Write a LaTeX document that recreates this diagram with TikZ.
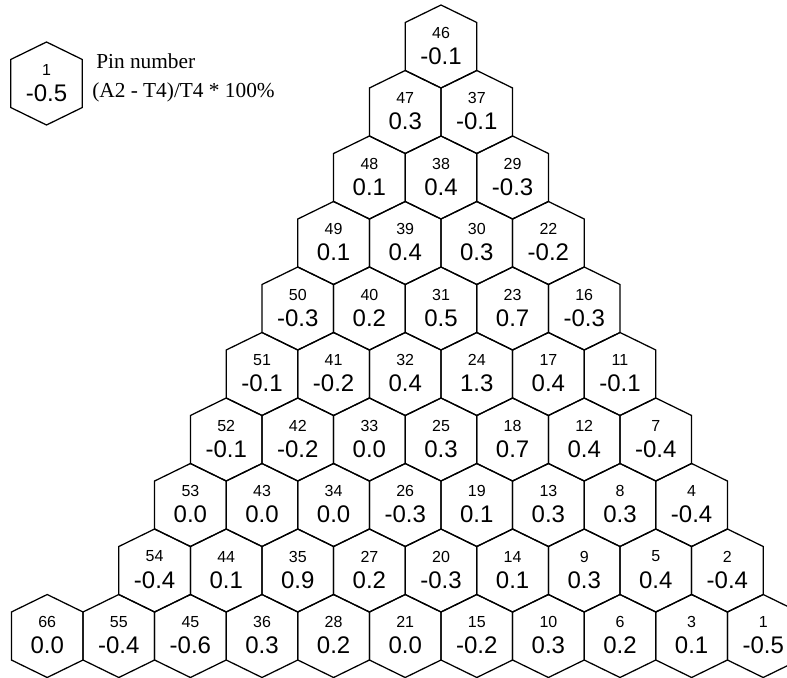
\documentclass[tikz,border=0pt]{standalone}
\usepackage{fontspec}
\setmainfont{Liberation Serif}
\newfontfamily\cellfont{Liberation Sans}

% one hexagonal cell: name, x, y, pin number, value
\newcommand{\hexcell}[5]{%
  \coordinate (#1) at ({#2},{#3});
  \draw[hexline] (#1) +(0,-41.5) -- +(35.8,-24) -- +(35.8,24) -- +(0,41.5) -- +(-35.8,24) -- +(-35.8,-24) -- cycle;
  \node[pinno] (#1n) at ([shift={(0,-14)}]#1) {#4};
  \node[pinval] (#1v) at ([shift={(0,9.5)}]#1) {#5};
}

\begin{document}
\begin{tikzpicture}[
		x=0.75pt, y=-0.75pt,
		hexline/.style={line width=0.95pt, line join=miter},
		pinno/.style={font=\cellfont\fontsize{12}{12}\selectfont, inner sep=0pt},
		pinval/.style={font=\cellfont\fontsize{18}{18}\selectfont, inner sep=0pt},
		legendtext/.style={font=\fontsize{16}{16}\selectfont, inner sep=0pt, anchor=base west}
		]
		
		\useasboundingbox (0,0) rectangle (787,677);
		\fill[white] (0,0) rectangle (787,677);
		\clip (0,0) rectangle (787,677);
		
		% Legend
		\hexcell{key}{46.5}{83.5}{1}{-0.5}
		\node[legendtext] (keypin) at (96,69) {Pin number};
		\node[legendtext] (keyformula) at (92,98) {(A2 - T4)/T4 * 100\%};
		
		% Cells, row by row
		\foreach \r/\cells in {
			0/{46/-0.1},
			1/{47/0.3, 37/-0.1},
			2/{48/0.1, 38/0.4, 29/-0.3},
			3/{49/0.1, 39/0.4, 30/0.3, 22/-0.2},
			4/{50/-0.3, 40/0.2, 31/0.5, 23/0.7, 16/-0.3},
			5/{51/-0.1, 41/-0.2, 32/0.4, 24/1.3, 17/0.4, 11/-0.1},
			6/{52/-0.1, 42/-0.2, 33/0.0, 25/0.3, 18/0.7, 12/0.4, 7/-0.4},
			7/{53/0.0, 43/0.0, 34/0.0, 26/-0.3, 19/0.1, 13/0.3, 8/0.3, 4/-0.4},
			8/{54/-0.4, 44/0.1, 35/0.9, 27/0.2, 20/-0.3, 14/0.1, 9/0.3, 5/0.4, 2/-0.4},
			9/{55/-0.4, 45/-0.6, 36/0.3, 28/0.2, 21/0.0, 15/-0.2, 10/0.3, 6/0.2, 3/0.1, 1/-0.5}}
		{
			\foreach \p/\v [count=\k from 0] in \cells
			{\hexcell{p\p}{441-35.8*\r+71.6*\k}{46.5+65.5*\r}{\p}{\v}}
		}
		
		% extra cell left of 55
		\hexcell{p66}{441-35.8*9-71.6}{46.5+65.5*9}{66}{0.0}
		
	\end{tikzpicture}
\end{document}
